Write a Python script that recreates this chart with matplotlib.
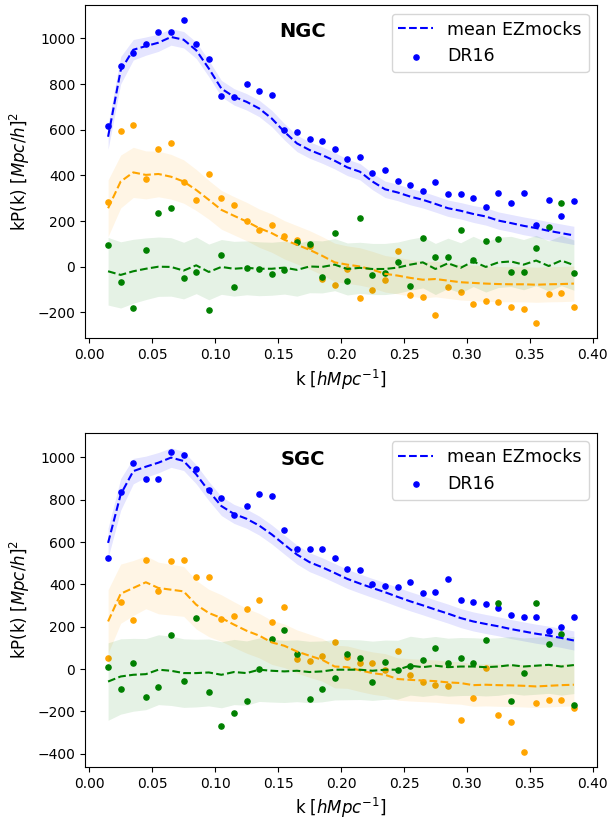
import numpy as np
import matplotlib
matplotlib.use("Agg")
from matplotlib import pyplot as plt

k = np.arange(0.015, 0.39, 0.01)

# NGC
ngc_p0 = [616, 879, 936, 977, 1028, 1029, 1080, 975, 908, 747, 745, 799, 769, 752, 598, 591, 559, 549, 517,
          472, 479, 409, 422, 376, 357, 333, 371, 319, 319, 303, 263, 323, 278, 322, 183, 290, 223, 287]
ngc_p2 = [285, 595, 620, 386, 514, 540, 373, 294, 406, 302, 271, 198, 162, 183, 135, 118, 89, -54, -82,
          -9, -138, -103, -58, 67, -122, -131, -210, -90, -112, -163, -151, -154, -178, -185, -247, -119, -117, -176]
ngc_p4 = [97, -67, -182, 73, 234, 256, -49, -25, -189, 51, -89, -4, -9, -31, -16, 109, 100, -44, 147,
          -62, 215, -35, -26, 22, -83, 127, 44, 44, 159, 28, 112, 121, -22, -25, 82, 175, 278, -26]
ngc_m0 = [569, 860, 950, 966, 981, 1006, 994, 948, 868, 780, 744, 722, 693, 649, 591, 540, 511, 489, 464,
          435, 416, 373, 339, 325, 307, 293, 275, 256, 245, 231, 220, 202, 191, 179, 169, 157, 147, 137]
ngc_m2 = [256, 373, 413, 402, 406, 394, 373, 336, 293, 249, 223, 198, 169, 147, 118, 96, 74, 48, 19,
          9, 1, -13, -31, -39, -49, -57, -54, -61, -68, -71, -74, -76, -77, -77, -79, -77, -76, -74]
ngc_m4 = [-20, -36, -20, -9, 0, -1, -17, 6, -23, -1, -9, -5, -9, -9, -4, -14, 1, -1, 9,
          -10, -5, -10, -10, -4, 9, 19, -10, 15, -5, 23, -1, 19, 23, 9, 27, 3, 27, 7]
ngc_s0 = [55, 60, 45, 40, 38, 36, 36, 36, 36, 36, 36, 36, 36, 36, 36, 36, 36, 36, 36,
          36, 36, 36, 36, 36, 36, 36, 36, 36, 36, 37, 38, 38, 38, 39, 39, 40, 40, 40]
ngc_s2 = [124, 116, 110, 105, 100, 98, 95, 90, 85, 85, 84, 84, 84, 84, 84, 84, 84, 84, 84,
          82, 82, 80, 80, 80, 80, 80, 78, 78, 78, 78, 78, 77, 77, 77, 77, 77, 77, 77]
ngc_s4 = [148, 145, 140, 135, 130, 128, 124, 124, 122, 120, 120, 118, 118, 116, 116, 115, 115, 114, 114,
          114, 112, 112, 112, 112, 112, 112, 112, 110, 110, 110, 110, 110, 110, 110, 110, 110, 110, 110]

# SGC
sgc_p0 = [525, 836, 972, 897, 899, 1027, 1011, 943, 844, 807, 729, 771, 825, 819, 659, 565, 569, 569, 527,
          471, 468, 404, 391, 390, 410, 358, 366, 424, 325, 317, 309, 287, 254, 244, 248, 178, 197, 244]
sgc_p2 = [52, 315, 232, 517, 367, 512, 517, 434, 434, 238, 252, 284, 325, 224, 292, 49, 38, 61, 126,
          57, 30, 28, -6, 83, -29, -63, -73, -82, -240, -139, 6, -215, -251, -390, -160, -145, -147, -182]
sgc_p4 = [9, -95, 31, -133, -84, 162, -55, 241, -106, -271, -208, -153, 0, 142, 186, 72, -142, -92, -44,
          69, 53, -60, 35, -6, 14, 42, 98, 31, 53, 31, 139, 312, -149, -19, 314, 120, 167, -169]
sgc_m0 = [596, 825, 935, 956, 975, 999, 983, 920, 841, 770, 733, 710, 678, 636, 588, 541, 505, 481, 454,
          426, 404, 383, 363, 341, 320, 301, 281, 262, 241, 225, 213, 202, 189, 178, 167, 158, 147, 135]
sgc_m2 = [225, 356, 383, 410, 383, 375, 367, 304, 265, 241, 210, 181, 158, 126, 110, 83, 63, 44, 12,
          9, -6, -19, -27, -47, -51, -54, -57, -63, -66, -76, -74, -76, -77, -79, -82, -79, -76, -74]
sgc_m4 = [-59, -35, -27, -24, -3, -8, -19, -19, -16, -27, -14, -19, -3, -8, -11, -8, -14, -11, -3,
          -3, -3, -8, -3, -3, 16, 9, 16, 9, 12, 12, 9, 12, 19, 12, 16, 20, 12, 19]
sgc_s0 = [70, 75, 60, 50, 48, 46, 45, 45, 45, 45, 45, 45, 45, 45, 45, 45, 45, 45, 45,
          45, 45, 45, 45, 45, 45, 45, 45, 45, 45, 45, 45, 45, 45, 45, 45, 45, 45, 45]
sgc_s2 = [150, 140, 130, 125, 122, 120, 118, 115, 112, 110, 108, 106, 105, 104, 103, 102, 102, 101, 101,
          100, 100, 100, 100, 100, 100, 100, 100, 100, 100, 100, 100, 100, 100, 100, 100, 100, 100, 100]
sgc_s4 = [183, 178, 172, 168, 165, 164, 162, 160, 158, 156, 154, 152, 150, 148, 147, 146, 145, 144, 143,
          142, 141, 140, 140, 139, 139, 138, 138, 137, 137, 136, 136, 136, 135, 135, 135, 135, 135, 135]

colors = ['blue', 'orange', 'green']

fig = plt.figure(figsize=(6.1, 8.21), dpi=100)
ax1 = fig.add_axes([0.139, 0.588, 0.840, 0.406])
ax2 = fig.add_axes([0.139, 0.066, 0.840, 0.407])

def panel(ax, name, pts, means, sigs):
    for c, p, m, s in zip(colors, pts, means, sigs):
        m = np.array(m)
        s = np.array(s)
        ax.fill_between(k, m - s, m + s, color=c, alpha=0.1, linewidth=0)
        ax.plot(k, m, '--', color=c, lw=1.5, label='mean EZmocks' if c == 'blue' else None)
        ax.scatter(k, p, s=14, color=c, label='DR16' if c == 'blue' else None)
    ax.set_xlabel(r'k $[hMpc^{-1}]$', fontsize=12)
    ax.set_ylabel(r'kP(k) $[Mpc/h]^2$', fontsize=12)
    ax.set_xticks(np.arange(0, 0.41, 0.05))
    ax.text(0.426, 0.92, name, transform=ax.transAxes, fontsize=14, fontweight='bold', ha='center', va='center')
    ax.legend(loc='upper right', fontsize=12.5)

panel(ax1, 'NGC', [ngc_p0, ngc_p2, ngc_p4], [ngc_m0, ngc_m2, ngc_m4], [ngc_s0, ngc_s2, ngc_s4])
panel(ax2, 'SGC', [sgc_p0, sgc_p2, sgc_p4], [sgc_m0, sgc_m2, sgc_m4], [sgc_s0, sgc_s2, sgc_s4])

plt.savefig('out.png')
